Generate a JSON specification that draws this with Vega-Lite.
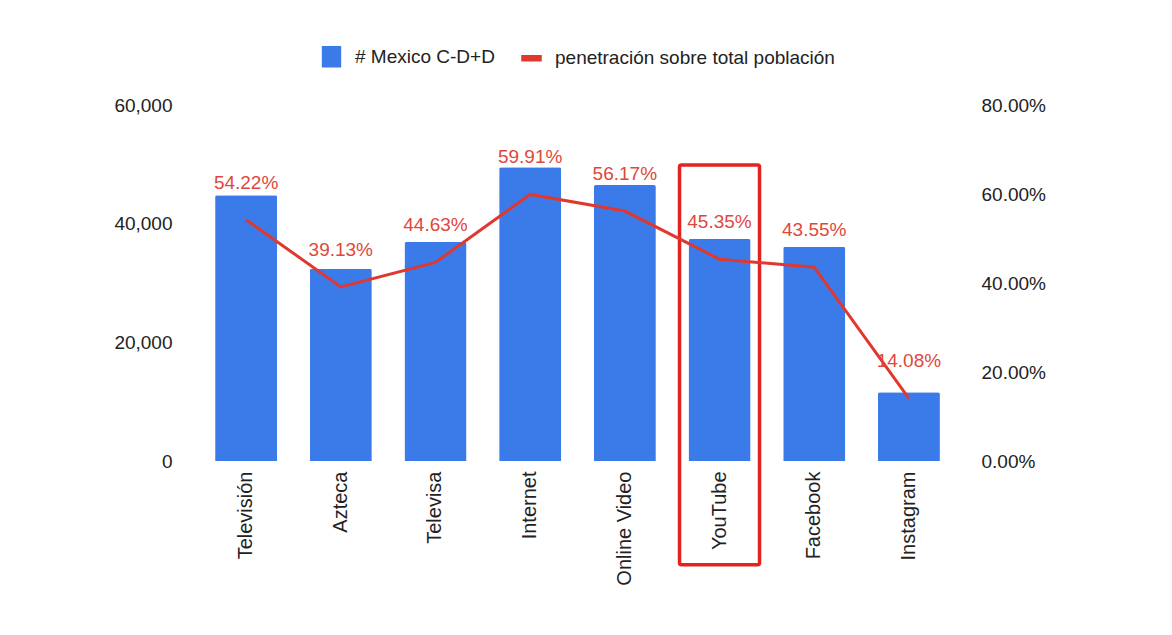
{
  "$schema": "https://vega.github.io/schema/vega-lite/v6.json",
  "width": 757,
  "height": 356,
  "autosize": {"type": "none"},
  "padding": {"left": 199, "top": 105, "right": 216, "bottom": 174},
  "background": "white",
  "config": {
    "font": "Liberation Sans",
    "view": {"stroke": null},
    "axis": {"labelFont": "Liberation Sans", "labelFontSize": 19, "labelColor": "#222222", "domain": false, "ticks": false, "grid": false, "title": null},
    "legend": {"layout": {"top": {"anchor": "middle"}}}
  },
  "data": {
    "values": [
      {"medio": "Televisión", "usuarios": 44800, "pct": 0.5422, "etiqueta": "54.22%"},
      {"medio": "Azteca", "usuarios": 32400, "pct": 0.3913, "etiqueta": "39.13%"},
      {"medio": "Televisa", "usuarios": 36900, "pct": 0.4463, "etiqueta": "44.63%"},
      {"medio": "Internet", "usuarios": 49500, "pct": 0.5991, "etiqueta": "59.91%"},
      {"medio": "Online Video", "usuarios": 46500, "pct": 0.5617, "etiqueta": "56.17%"},
      {"medio": "YouTube", "usuarios": 37400, "pct": 0.4535, "etiqueta": "45.35%"},
      {"medio": "Facebook", "usuarios": 36100, "pct": 0.4355, "etiqueta": "43.55%"},
      {"medio": "Instagram", "usuarios": 11600, "pct": 0.1408, "etiqueta": "14.08%"}
    ]
  },
  "encoding": {
    "x": {
      "field": "medio", "type": "nominal", "sort": null,
      "scale": {"paddingInner": 0.345, "paddingOuter": 0.17},
      "axis": {"labelAngle": -90, "labelPadding": 10, "labelFontSize": 20}
    }
  },
  "layer": [
    {
      "layer": [
        {
          "mark": {"type": "bar", "cornerRadiusTopLeft": 2, "cornerRadiusTopRight": 2},
          "encoding": {
            "y": {
              "field": "usuarios", "type": "quantitative",
              "scale": {"domain": [0, 60000], "nice": false},
              "axis": {"orient": "left", "values": [0, 20000, 40000, 60000], "format": ",d", "labelPadding": 27}
            },
            "color": {
              "datum": "# Mexico C-D+D",
              "type": "nominal",
              "scale": {"domain": ["# Mexico C-D+D", "penetración sobre total población"], "range": ["#3b7be9", "#e0382e"]},
              "legend": {
                "orient": "top", "direction": "horizontal", "title": null, "offset": 35,
                "labelFontSize": 19, "labelColor": "#222222", "labelFont": "Liberation Sans", "labelLimit": 500,
                "symbolSize": 361, "labelOffset": 13, "columnPadding": 24,
                "encode": {
                  "symbols": {
                    "update": {
                      "shape": {"signal": "datum.value === '# Mexico C-D+D' ? 'M-0.94,-1.06H0.94V1.06H-0.94Z' : 'M-1,-0.26H1V0.26H-1Z'"},
                      "fill": {"scale": "color", "field": "value"},
                      "stroke": {"value": "transparent"},
                      "opacity": {"value": 1}
                    }
                  }
                }
              }
            }
          }
        },
        {
          "data": {"values": [{"marca": "destacado"}]},
          "mark": {"type": "rect", "fill": null, "fillOpacity": 0, "stroke": "#e02520", "strokeWidth": 3.5, "cornerRadius": 2, "width": {"band": 1.29}, "clip": false},
          "encoding": {
            "x": {"datum": "YouTube", "type": "nominal"},
            "y": {"datum": 49900, "type": "quantitative", "axis": {"orient": "left", "values": [0, 20000, 40000, 60000], "format": ",d", "labelPadding": 27}},
            "y2": {"datum": -17500}
          }
        }
      ]
    },
    {
      "layer": [
        {
          "mark": {"type": "line", "strokeWidth": 3},
          "encoding": {
            "y": {
              "field": "pct", "type": "quantitative",
              "scale": {"domain": [0, 0.8], "nice": false},
              "axis": {"orient": "right", "values": [0, 0.2, 0.4, 0.6, 0.8], "format": ".2%", "labelPadding": 25}
            },
            "color": {"datum": "penetración sobre total población", "type": "nominal"}
          }
        },
        {
          "mark": {"type": "text", "dy": -37, "fontSize": 19, "color": "#e0473c", "font": "Liberation Sans"},
          "encoding": {
            "y": {"field": "pct", "type": "quantitative"},
            "text": {"field": "etiqueta"}
          }
        }
      ]
    }
  ],
  "resolve": {"scale": {"y": "independent"}}
}
